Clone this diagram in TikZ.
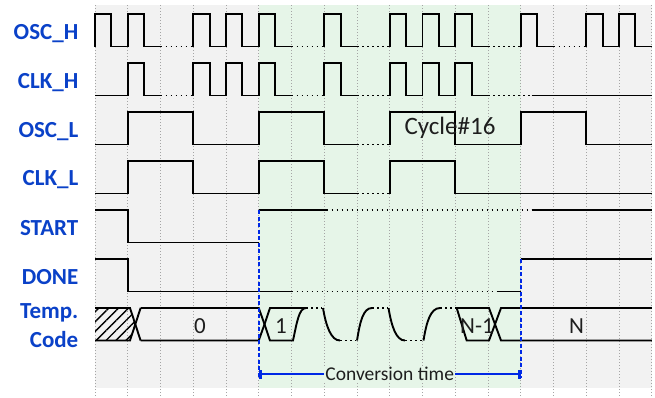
\documentclass[tikz,border=0pt]{standalone}
\usepackage{fontspec}
\setmainfont{Carlito}
\usetikzlibrary{arrows.meta,patterns.meta}
\definecolor{lblblue}{RGB}{10,65,200}
\definecolor{markblue}{RGB}{0,40,230}
\definecolor{bggray}{RGB}{242,242,242}
\definecolor{bggreen}{RGB}{230,245,232}
\definecolor{gridgray}{RGB}{165,165,165}
\definecolor{txtdark}{RGB}{30,30,30}
\tikzset{
  wave/.style={line width=1.9pt, black, line join=miter},
  gapline/.style={line width=1.7pt, black, dash pattern=on 1.7pt off 3.3pt},
  gridline/.style={gridgray, line width=0.9pt, dash pattern=on 1.4pt off 1.6pt},
  marker/.style={markblue, line width=1.7pt, dash pattern=on 4pt off 2.5pt},
  convline/.style={markblue, line width=1.7pt, {Bar[width=9pt,line width=3pt]}-{Bar[width=9pt,line width=3pt]}},
  lbl/.style={text=lblblue, font=\fontsize{23}{27}\selectfont\bfseries, inner sep=0pt, anchor=base east},
  bustext/.style={text=txtdark, font=\fontsize{23}{27}\selectfont, inner sep=0pt, anchor=base},
  convtext/.style={text=txtdark, font=\fontsize{19.5}{23}\selectfont, fill=bggreen, inner sep=1pt},
}
\begin{document}
\begin{tikzpicture}[x=1pt,y=-1pt]
\useasboundingbox (0,0) rectangle (655,397);
\fill[bggray] (95,5) rectangle (652,388);
\fill[bggreen] (259,5) rectangle (521,388);
\begin{scope}[x=32.75pt, xshift=95pt]
  \foreach \i in {0,...,17} \draw[gridline] (\i,5) -- (\i,397);
  % OSC_H
  \draw[wave] (0,46.5)--(0,14)--(.5,14)--(.5,46.5)--(1,46.5)--(1,14)--(1.5,14)--(1.5,46.5)--(2,46.5);
  \draw[gapline] (2,46.5)--(3,46.5);
  \draw[wave] (3,46.5)--(3,14)--(3.5,14)--(3.5,46.5)--(4,46.5)--(4,14)--(4.5,14)--(4.5,46.5)--(5,46.5)--(5,14)--(5.5,14)--(5.5,46.5)--(6,46.5);
  \draw[gapline] (6,46.5)--(7,46.5);
  \draw[wave] (7,46.5)--(7,14)--(7.5,14)--(7.5,46.5)--(8,46.5);
  \draw[gapline] (8,46.5)--(9,46.5);
  \draw[wave] (9,46.5)--(9,14)--(9.5,14)--(9.5,46.5)--(10,46.5)--(10,14)--(10.5,14)--(10.5,46.5)--(11,46.5)--(11,14)--(11.5,14)--(11.5,46.5)--(12,46.5);
  \draw[gapline] (12,46.5)--(13,46.5);
  \draw[wave] (13,46.5)--(13,14)--(13.5,14)--(13.5,46.5)--(14,46.5);
  \draw[gapline] (14,46.5)--(15,46.5);
  \draw[wave] (15,46.5)--(15,14)--(15.5,14)--(15.5,46.5)--(16,46.5)--(16,14)--(16.5,14)--(16.5,46.5)--(17,46.5);
  % CLK_H
  \draw[wave] (0,95.5)--(1,95.5)--(1,63)--(1.5,63)--(1.5,95.5)--(2,95.5);
  \draw[gapline] (2,95.5)--(3,95.5);
  \draw[wave] (3,95.5)--(3,63)--(3.5,63)--(3.5,95.5)--(4,95.5)--(4,63)--(4.5,63)--(4.5,95.5)--(5,95.5)--(5,63)--(5.5,63)--(5.5,95.5)--(6,95.5);
  \draw[gapline] (6,95.5)--(7,95.5);
  \draw[wave] (7,95.5)--(7,63)--(7.5,63)--(7.5,95.5)--(8,95.5);
  \draw[gapline] (8,95.5)--(9,95.5);
  \draw[wave] (9,95.5)--(9,63)--(9.5,63)--(9.5,95.5)--(10,95.5)--(10,63)--(10.5,63)--(10.5,95.5)--(11,95.5)--(11,63)--(11.5,63)--(11.5,95.5)--(12,95.5);
  \draw[gapline] (12,95.5)--(13.33,95.5);
  \draw[wave] (13.33,95.5)--(17,95.5);
  % OSC_L
  \draw[wave] (0,144.5)--(1,144.5)--(1,112)--(3,112)--(3,144.5)--(5,144.5)--(5,112)--(7,112)--(7,144.5)--(8,144.5);
  \draw[gapline] (8,144.5)--(9,144.5);
  \draw[wave] (9,144.5)--(9,112)--(11,112)--(11,144.5)--(13,144.5)--(13,112)--(15,112)--(15,144.5)--(17,144.5);
  % CLK_L
  \draw[wave] (0,193.5)--(1,193.5)--(1,161)--(3,161)--(3,193.5)--(5,193.5)--(5,161)--(7,161)--(7,193.5)--(8,193.5);
  \draw[gapline] (8,193.5)--(9,193.5);
  \draw[wave] (9,193.5)--(9,161)--(11,161)--(11,193.5)--(17,193.5);
  % START
  \draw[wave] (0,210)--(1,210)--(1,242.5)--(5,242.5);
  \draw[wave] (5,210)--(7.07,210);
  \draw[gapline] (7.07,210)--(13.33,210);
  \draw[wave] (13.33,210)--(17,210);
  % DONE
  \draw[wave] (0,259)--(1,259)--(1,291.5)--(6,291.5);
  \draw[gapline] (6,291.5)--(12.3,291.5);
  \draw[wave] (12.3,291.5)--(13,291.5);
  \draw[wave] (13,259)--(17,259);
  % markers
  \coordinate (startrise) at (5,210);
  \coordinate (markL) at (5,378);
  \coordinate (donerise) at (13,259);
  \coordinate (markR) at (13,378);
  \coordinate (convS) at (5,374);
  \coordinate (convE) at (13,374);
\end{scope}
% Temp. Code bus
\fill[pattern={Lines[angle=45,distance=7pt,line width=1.4pt]}] (95,308)--(130,308)--(135.3,324.25)--(130,340.5)--(95,340.5)--cycle;
\draw[wave] (95,308)--(130,308)--(135.3,324.25)--(130,340.5)--(95,340.5);
\draw[wave] (140.6,308)--(135.3,324.25)--(140.6,340.5);
\draw[wave] (140.6,308)--(258.75,308)--(264.5,324.25)--(258.75,340.5)--(140.6,340.5);
\draw[wave] (306,308)--(270,308)--(264.5,324.25)--(270,340.5)--(293,340.5) .. controls (297,322) and (299,308) .. (306,308);
\draw[gapline] (306,308)--(322,308);
\draw[wave] (323,308) .. controls (326,326) and (331,340.5) .. (340,340.5);
\draw[gapline] (340,340.5)--(356,340.5);
\draw[wave] (357,340.5) .. controls (360,322) and (363,308) .. (372,308);
\draw[gapline] (372,308)--(388,308);
\draw[wave] (388.5,308) .. controls (391.5,326) and (396,340.5) .. (405,340.5);
\draw[gapline] (405,340.5)--(423,340.5);
\draw[wave] (423.5,340.5) .. controls (426.5,322) and (430.5,308) .. (440,308);
\draw[gapline] (440,308)--(456.5,308);
\draw[wave] (456.7,308)--(466.7,340.5)--(489,340.5)--(495,324.25)--(489,308)--cycle;
\draw[wave] (651.75,308)--(501,308)--(495,324.25)--(501,340.5)--(651.75,340.5);
\node[bustext] (code0) at (200,333.3) {0};
\node[bustext] (code1) at (281,333.3) {1};
\node[bustext] (codeN1) at (477,333.3) {N-1};
\node[bustext] (codeN) at (576.5,333.3) {N};
% markers
\draw[marker] (startrise) -- (markL);
\draw[marker] (donerise) -- (markR);
\draw[convline] (convS) -- node[convtext] (convlabel) {Conversion time} (convE);
% Cycle label
\node[bustext, font=\fontsize{25}{30}\selectfont] (cycle) at (450,134) {Cycle\#16};
% labels
\node[lbl] (lOSCH) at (78.5,39) {OSC\_H};
\node[lbl] (lCLKH) at (78.5,88) {CLK\_H};
\node[lbl] (lOSCL) at (78.5,137) {OSC\_L};
\node[lbl] (lCLKL) at (78.5,185.5) {CLK\_L};
\node[lbl] (lSTART) at (78.5,235) {START};
\node[lbl] (lDONE) at (78.5,284) {DONE};
\node[lbl] (lTemp) at (78.5,318) {Temp.};
\node[lbl] (lCode) at (78.5,347) {Code};
\end{tikzpicture}
\end{document}
